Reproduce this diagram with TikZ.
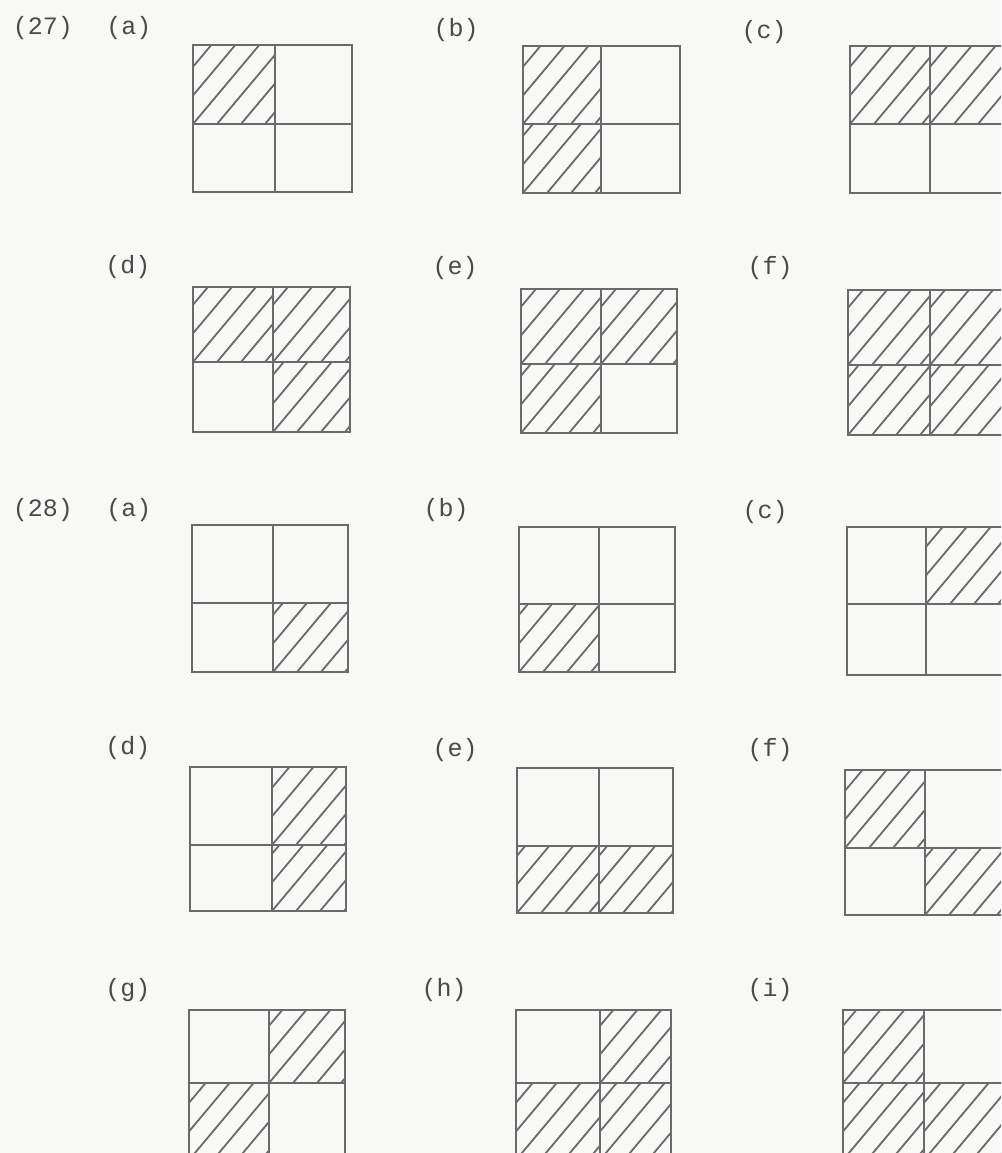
\documentclass[tikz,border=0pt]{standalone}
\usepackage{fontspec}
\setmonofont{Liberation Mono}
\definecolor{paper}{HTML}{F8F8F6}
\definecolor{ink}{HTML}{6A6A6A}
\definecolor{txt}{HTML}{4A4A4A}
\tikzset{
  gridline/.style={draw=ink, line width=2.4pt},
  midv/.style={draw=ink, line width=1.5pt},
  midh/.style={draw=ink, line width=2.8pt},
  hatchline/.style={draw=ink, line width=1.8pt},
  lbl/.style={text=txt, font=\ttfamily\fontsize{25}{29}\selectfont, inner sep=0pt}
}
% \hcell{x0}{y0}{x1}{y1}
\newcommand{\hcell}[4]{%
  \begin{scope}
    \clip (#1,#2) rectangle (#3,#4);
    \foreach \k in {0,...,10} {
      \draw[hatchline] ({#1-72+\k*24},{#4}) -- ++(-50:140);
    }
  \end{scope}}
% \pgrid{x0}{y0}{x1}{y1}{xm}{ym}
\newcommand{\pgrid}[6]{%
  \draw[gridline] (#1,#2) rectangle (#3,#4);
  \draw[midv] (#5,#2) -- (#5,#4);
  \draw[midh] (#1,#6) -- (#3,#6);}
\newcommand{\TL}[6]{\hcell{#1}{#2}{#5}{#6}}
\newcommand{\TR}[6]{\hcell{#5}{#2}{#3}{#6}}
\newcommand{\BL}[6]{\hcell{#1}{#6}{#5}{#4}}
\newcommand{\BR}[6]{\hcell{#5}{#6}{#3}{#4}}
\begin{document}
\begin{tikzpicture}[x=1pt,y=-1pt]
\useasboundingbox (0,0) rectangle (1001,1153);
\fill[paper] (0,0) rectangle (1001,1153);
\clip (0,0) rectangle (1001,1153);

% ---------- (27) ----------
\node[lbl] (n27) at (43,28) {(27)};
\node[lbl] (l27a) at (129,28) {(a)};
\node[lbl] (l27b) at (456,30) {(b)};
\node[lbl] (l27c) at (764,32) {(c)};
\node[lbl] (l27d) at (128,267) {(d)};
\node[lbl] (l27e) at (455,268) {(e)};
\node[lbl] (l27f) at (770,268) {(f)};

% (a)
\TL{193}{45}{352}{192}{275}{124}
\pgrid{193}{45}{352}{192}{275}{124}
% (b)
\TL{523}{46}{680}{193}{601}{124}
\BL{523}{46}{680}{193}{601}{124}
\pgrid{523}{46}{680}{193}{601}{124}
% (c)
\TL{850}{46}{1012}{193}{930}{124}
\TR{850}{46}{1012}{193}{930}{124}
\pgrid{850}{46}{1012}{193}{930}{124}
% (d)
\TL{193}{287}{350}{432}{273}{362}
\TR{193}{287}{350}{432}{273}{362}
\BR{193}{287}{350}{432}{273}{362}
\pgrid{193}{287}{350}{432}{273}{362}
% (e)
\TL{521}{289}{677}{433}{601}{364}
\TR{521}{289}{677}{433}{601}{364}
\BL{521}{289}{677}{433}{601}{364}
\pgrid{521}{289}{677}{433}{601}{364}
% (f)
\TL{848}{290}{1010}{435}{930}{365}
\TR{848}{290}{1010}{435}{930}{365}
\BL{848}{290}{1010}{435}{930}{365}
\BR{848}{290}{1010}{435}{930}{365}
\pgrid{848}{290}{1010}{435}{930}{365}

% ---------- (28) ----------
\node[lbl] (n28) at (43,510) {(28)};
\node[lbl] (l28a) at (129,510) {(a)};
\node[lbl] (l28b) at (446,510) {(b)};
\node[lbl] (l28c) at (765,512) {(c)};
\node[lbl] (l28d) at (128,748) {(d)};
\node[lbl] (l28e) at (455,750) {(e)};
\node[lbl] (l28f) at (770,750) {(f)};
\node[lbl] (l28g) at (128,990) {(g)};
\node[lbl] (l28h) at (444,990) {(h)};
\node[lbl] (l28i) at (770,990) {(i)};

% (a)
\BR{192}{525}{348}{672}{273}{603}
\pgrid{192}{525}{348}{672}{273}{603}
% (b)
\BL{519}{527}{675}{672}{599}{604}
\pgrid{519}{527}{675}{672}{599}{604}
% (c)
\TR{847}{527}{1010}{675}{926}{604}
\pgrid{847}{527}{1010}{675}{926}{604}
% (d)
\TR{190}{767}{346}{911}{272}{845}
\BR{190}{767}{346}{911}{272}{845}
\pgrid{190}{767}{346}{911}{272}{845}
% (e)
\BL{517}{768}{673}{913}{599}{846}
\BR{517}{768}{673}{913}{599}{846}
\pgrid{517}{768}{673}{913}{599}{846}
% (f)
\TL{845}{770}{1010}{915}{925}{848}
\BR{845}{770}{1010}{915}{925}{848}
\pgrid{845}{770}{1010}{915}{925}{848}
% (g)
\TR{189}{1010}{345}{1160}{269}{1083}
\BL{189}{1010}{345}{1160}{269}{1083}
\pgrid{189}{1010}{345}{1160}{269}{1083}
% (h)
\TR{516}{1010}{671}{1160}{600}{1083}
\BL{516}{1010}{671}{1160}{600}{1083}
\BR{516}{1010}{671}{1160}{600}{1083}
\pgrid{516}{1010}{671}{1160}{600}{1083}
% (i)
\TL{843}{1010}{1010}{1160}{924}{1083}
\BL{843}{1010}{1010}{1160}{924}{1083}
\BR{843}{1010}{1010}{1160}{924}{1083}
\pgrid{843}{1010}{1010}{1160}{924}{1083}
\end{tikzpicture}
\end{document}
